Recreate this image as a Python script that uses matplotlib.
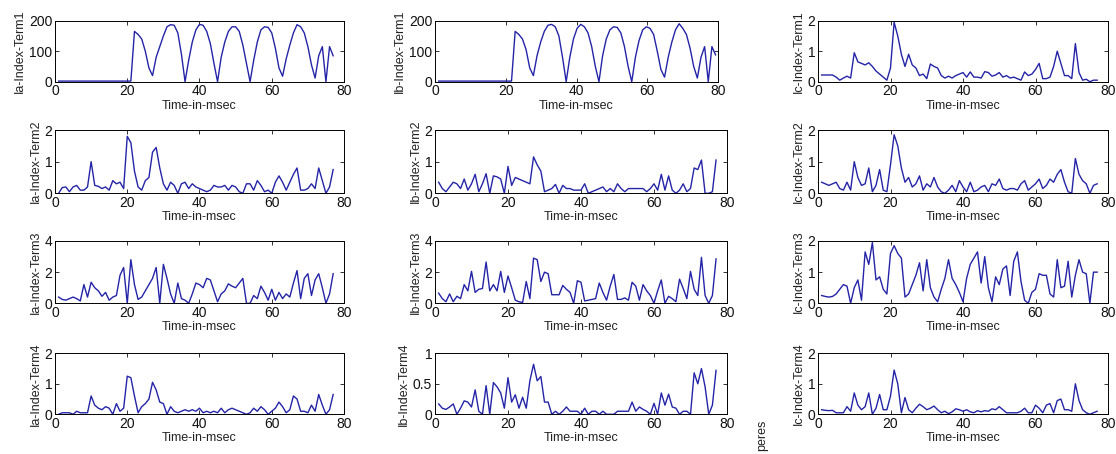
import matplotlib

matplotlib.use('Agg')

import matplotlib.pyplot as plt
import numpy as np

plt.rcParams['font.family'] = ['Liberation Sans', 'DejaVu Sans']

# time grids (msec); the Ib term-1 trace is drawn on a slightly wider grid in the source
tempo = np.arange(1, 78)
tempo_b1 = np.arange(1, 78) * 1.03

ia1 = [2]*21 + [165, 155, 140, 100, 45, 20, 80, 115, 150, 180, 187, 185, 160, 90, 0,
               70, 130, 170, 188, 185, 165, 125, 60, 0, 80, 130, 165, 180, 180, 165, 120,
               60, 0, 70, 130, 170, 180, 178, 160, 110, 45, 18, 75, 120, 160, 187, 180,
               160, 115, 55, 12, 85, 115, 0, 115, 85]
ib1 = [2]*21 + [165, 155, 140, 105, 45, 20, 85, 130, 165, 185, 188, 180, 150, 80, 0,
               80, 140, 175, 188, 180, 160, 115, 50, 0, 85, 140, 170, 180, 178, 160, 115,
               50, 0, 80, 135, 170, 180, 175, 155, 100, 40, 15, 80, 130, 170, 190, 175,
               155, 110, 50, 12, 80, 115, 0, 115, 88]
ic1 = [0.22, 0.22, 0.22, 0.22, 0.15, 0.05, 0.12, 0.18, 0.12, 0.95, 0.65, 0.6, 0.55, 0.62,
       0.5, 0.35, 0.25, 0.15, 0.05, 0.45, 1.95, 1.5, 0.9, 0.5, 0.9, 0.55, 0.45, 0.2, 0.25,
       0.1, 0.58, 0.5, 0.45, 0.2, 0.12, 0.18, 0.12, 0.2, 0.25, 0.3, 0.15, 0.32, 0.15, 0.15,
       0.12, 0.33, 0.3, 0.18, 0.22, 0.3, 0.15, 0.2, 0.12, 0.15, 0.1, 0.05, 0.32, 0.2, 0.25,
       0.4, 0.6, 0.1, 0.1, 0.15, 0.5, 1.0, 0.6, 0.2, 0.2, 0.1, 1.25, 0.3, 0.05, 0.08, 0.0,
       0.05, 0.05]

ia2 = [0.0, 0.18, 0.2, 0.05, 0.2, 0.25, 0.1, 0.1, 0.2, 1.0, 0.25, 0.22, 0.15, 0.2, 0.1,
       0.4, 0.3, 0.35, 0.15, 1.8, 1.6, 0.7, 0.2, 0.1, 0.4, 0.5, 1.3, 1.45, 0.8, 0.3, 0.1,
       0.35, 0.25, 0.0, 0.3, 0.35, 0.15, 0.3, 0.2, 0.15, 0.1, 0.05, 0.1, 0.25, 0.2, 0.2,
       0.25, 0.1, 0.25, 0.2, 0.05, 0.0, 0.3, 0.3, 0.1, 0.4, 0.25, 0.05, 0.1, 0.0, 0.35,
       0.55, 0.35, 0.1, 0.35, 0.6, 0.8, 0.1, 0.1, 0.15, 0.3, 0.15, 0.8, 0.4, 0.0, 0.2, 0.75]
ib2 = [0.35, 0.15, 0.05, 0.2, 0.35, 0.3, 0.15, 0.45, 0.1, 0.3, 0.6, 0.05, 0.3, 0.62, 0.0,
       0.55, 0.52, 0.45, 0.0, 0.85, 0.25, 0.5, 0.45, 0.4, 0.35, 0.3, 1.15, 0.9, 0.7, 0.05,
       0.1, 0.15, 0.28, 0.0, 0.25, 0.15, 0.15, 0.1, 0.1, 0.1, 0.3, 0.0, 0.05, 0.1, 0.15,
       0.2, 0.05, 0.15, 0.05, 0.3, 0.15, 0.05, 0.15, 0.15, 0.15, 0.15, 0.15, 0.05, 0.15,
       0.3, 0.1, 0.6, 0.1, 0.55, 0.1, 0.0, 0.1, 0.3, 0.05, 0.15, 0.8, 0.75, 1.05, 0.0, 0.0,
       0.05, 1.05]
ic2 = [0.35, 0.3, 0.25, 0.3, 0.35, 0.15, 0.1, 0.35, 0.1, 1.0, 0.5, 0.25, 0.3, 0.8, 0.05,
       0.25, 0.75, 0.1, 0.05, 0.9, 1.85, 1.5, 0.8, 0.35, 0.5, 0.2, 0.3, 0.55, 0.1, 0.3,
       0.2, 0.5, 0.2, 0.05, 0.0, 0.1, 0.25, 0.05, 0.4, 0.2, 0.05, 0.35, 0.05, 0.1, 0.2,
       0.25, 0.05, 0.3, 0.25, 0.45, 0.15, 0.1, 0.15, 0.15, 0.1, 0.3, 0.4, 0.1, 0.2, 0.3,
       0.45, 0.15, 0.25, 0.45, 0.35, 0.6, 0.75, 0.35, 0.05, 0.0, 1.1, 0.6, 0.4, 0.3, 0.0,
       0.25, 0.3]

ia3 = [0.4, 0.25, 0.2, 0.3, 0.4, 0.3, 0.15, 1.2, 0.4, 1.35, 1.0, 0.8, 0.45, 0.7, 0.2, 0.4,
       0.5, 1.8, 2.3, 0.0, 2.8, 1.2, 0.25, 0.4, 0.8, 1.2, 1.6, 2.3, 0.0, 2.5, 1.6, 0.6, 0.0,
       1.3, 0.3, 0.2, 0.0, 0.6, 1.3, 1.2, 1.0, 1.6, 1.5, 0.8, 0.1, 0.6, 0.8, 1.25, 1.1, 1.0,
       1.3, 1.6, 0.0, 0.0, 0.5, 0.3, 1.1, 0.7, 0.2, 0.9, 0.2, 0.7, 0.3, 0.6, 0.4, 1.3, 2.1,
       0.3, 1.6, 1.9, 0.5, 1.5, 1.9, 1.0, 0.0, 0.6, 1.9]
ib3 = [0.65, 0.3, 0.1, 0.6, 0.1, 0.45, 0.3, 1.2, 0.8, 2.05, 0.7, 0.9, 0.95, 2.65, 0.8, 1.2,
       0.8, 2.05, 0.7, 1.75, 1.0, 0.2, 0.1, 0.05, 1.4, 0.3, 2.9, 2.8, 1.4, 2.0, 1.9, 0.55,
       0.55, 0.55, 1.15, 0.9, 0.7, 0.0, 1.45, 1.35, 0.15, 0.2, 0.25, 0.3, 1.3, 0.7, 0.2,
       1.1, 1.85, 0.25, 0.25, 0.35, 0.2, 1.35, 1.1, 0.2, 1.2, 0.8, 0.5, 0.0, 0.8, 1.5, 0.0,
       0.45, 0.3, 0.1, 1.55, 0.95, 0.3, 2.05, 0.9, 0.5, 2.95, 0.5, 0.0, 0.5, 2.85]
ic3 = [0.25, 0.22, 0.2, 0.22, 0.3, 0.45, 0.6, 0.55, 0.0, 0.5, 0.75, 0.1, 1.65, 1.25, 1.95,
       0.75, 0.85, 0.45, 0.3, 1.6, 1.85, 1.6, 1.45, 0.2, 0.3, 0.6, 0.9, 1.3, 0.4, 1.4, 0.5,
       0.2, 0.05, 0.45, 0.8, 1.4, 0.8, 0.6, 0.35, 0.05, 0.8, 1.25, 1.45, 1.65, 0.65, 1.5,
       0.5, 0.05, 0.85, 0.6, 1.1, 1.2, 0.25, 1.35, 1.65, 0.7, 0.1, 0.0, 0.35, 0.45, 0.95,
       0.9, 0.9, 0.3, 0.2, 1.4, 0.5, 0.55, 1.35, 0.2, 0.9, 1.4, 1.0, 0.95, 0.0, 1.0, 1.0]

ia4 = [0.0, 0.05, 0.05, 0.05, 0.0, 0.1, 0.05, 0.05, 0.05, 0.6, 0.3, 0.2, 0.15, 0.25, 0.2,
       0.0, 0.35, 0.1, 0.2, 1.25, 1.2, 0.6, 0.05, 0.25, 0.35, 0.5, 1.05, 0.8, 0.4, 0.35,
       0.0, 0.25, 0.1, 0.05, 0.1, 0.15, 0.1, 0.15, 0.1, 0.2, 0.05, 0.1, 0.05, 0.1, 0.05,
       0.2, 0.05, 0.15, 0.2, 0.15, 0.1, 0.05, 0.0, 0.05, 0.2, 0.1, 0.25, 0.15, 0.0, 0.1,
       0.2, 0.4, 0.25, 0.05, 0.15, 0.6, 0.5, 0.1, 0.1, 0.05, 0.3, 0.1, 0.65, 0.3, 0.0,
       0.15, 0.65]
ib4 = [0.17, 0.1, 0.08, 0.12, 0.17, 0.0, 0.1, 0.22, 0.2, 0.12, 0.4, 0.05, 0.0, 0.47, 0.0,
       0.52, 0.45, 0.35, 0.1, 0.6, 0.2, 0.32, 0.1, 0.28, 0.1, 0.55, 0.82, 0.55, 0.62, 0.2,
       0.2, 0.0, 0.05, 0.0, 0.05, 0.12, 0.05, 0.05, 0.05, 0.0, 0.1, 0.0, 0.05, 0.05, 0.0,
       0.05, 0.0, 0.0, 0.0, 0.05, 0.05, 0.05, 0.05, 0.2, 0.05, 0.12, 0.08, 0.05, 0.0, 0.18,
       0.0, 0.35, 0.15, 0.33, 0.12, 0.1, 0.0, 0.05, 0.05, 0.0, 0.68, 0.5, 0.75, 0.45, 0.0,
       0.15, 0.72]
ic4 = [0.15, 0.13, 0.12, 0.13, 0.05, 0.05, 0.05, 0.25, 0.1, 0.7, 0.3, 0.15, 0.25, 0.7, 0.0,
       0.2, 0.65, 0.15, 0.15, 0.6, 1.45, 1.0, 0.05, 0.55, 0.15, 0.05, 0.2, 0.33, 0.25, 0.15,
       0.2, 0.27, 0.15, 0.05, 0.1, 0.02, 0.08, 0.18, 0.15, 0.1, 0.15, 0.08, 0.05, 0.12,
       0.08, 0.12, 0.1, 0.18, 0.15, 0.25, 0.15, 0.05, 0.05, 0.05, 0.05, 0.1, 0.2, 0.05,
       0.05, 0.3, 0.2, 0.05, 0.3, 0.35, 0.05, 0.45, 0.5, 0.15, 0.15, 0.1, 1.0, 0.45, 0.15,
       0.05, 0.0, 0.05, 0.1]

fases = ['Ia', 'Ib', 'Ic']
series = [[ia1, ib1, ic1], [ia2, ib2, ic2], [ia3, ib3, ic3], [ia4, ib4, ic4]]
ylims = [[200, 200, 2], [2, 2, 2], [4, 4, 2], [2, 1, 2]]
yticks = [[[0, 100, 200], [0, 100, 200], [0, 1, 2]],
          [[0, 1, 2], [0, 1, 2], [0, 1, 2]],
          [[0, 2, 4], [0, 2, 4], [0, 1, 2]],
          [[0, 1, 2], [0, 0.5, 1], [0, 1, 2]]]

W, H = 1116, 454
colunas = [(55, 344), (435, 727), (818, 1108)]
linhas = [(20.7, 81.7), (130, 193.3), (241, 303.3), (353.3, 414.3)]

fig = plt.figure(figsize=(W / 100, H / 100), dpi=100)

for r in range(4):
    for c in range(3):
        x0, x1 = colunas[c]
        if r == 0 and c == 1:
            x1 = 718
        y0, y1 = linhas[r]
        ax = fig.add_axes([x0 / W, 1 - y1 / H, (x1 - x0) / W, (y1 - y0) / H])
        t = tempo_b1 if (r == 0 and c == 1) else tempo
        ax.plot(t, series[r][c], color='#2424a8', lw=1.0)
        ax.set_xlim(0, 80)
        ax.set_ylim(0, ylims[r][c])
        ax.set_xticks([0, 20, 40, 60, 80])
        ax.set_yticks(yticks[r][c])
        if r == 3 and c == 1:
            ax.set_yticklabels(['0', '0.5', '1'])
        ax.tick_params(direction='in', top=True, right=True, length=3, width=0.6,
                       labelsize=10, pad=2, colors='#111111')
        for s in ax.spines.values():
            s.set_linewidth(0.7)
        ax.set_xlabel('Time-in-msec', fontsize=9, labelpad=1, color='#222222')
        ax.set_ylabel(fases[c] + '-Index-Term' + str(r + 1), fontsize=9, labelpad=2,
                      color='#222222')

# the shared y label is only partly visible at the bottom edge in the source
fig.text(762 / W, 1 - 420 / H, 'peres', rotation=90, ha='center', va='top',
         fontsize=9, color='#222222')

fig.savefig('out.png', dpi=100)
